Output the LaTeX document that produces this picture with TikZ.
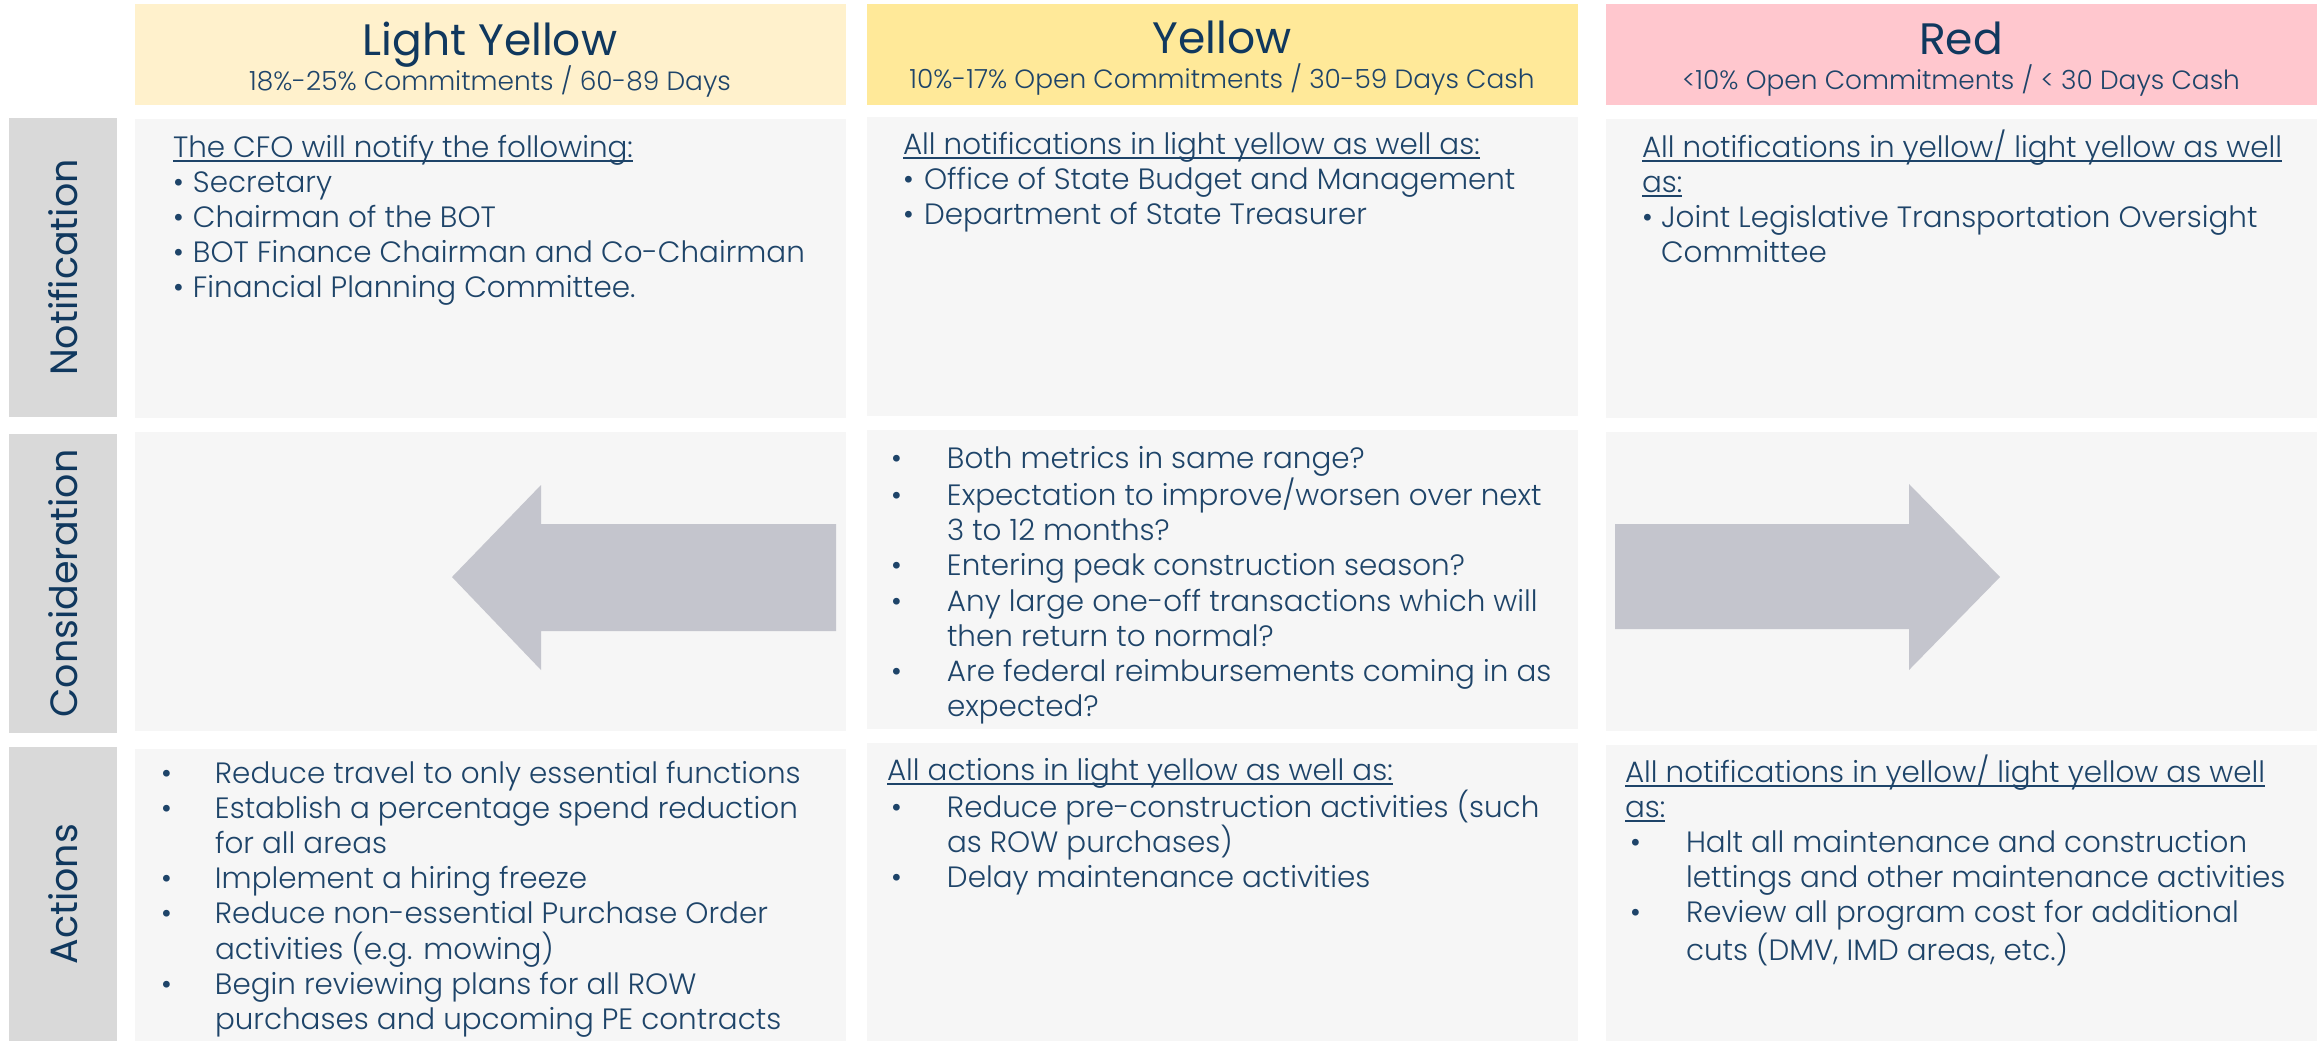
\documentclass[tikz,border=0pt]{standalone}
\usepackage{fontspec}
\setmainfont{Poppins}
\newfontfamily\lightfont{Poppins Light}
\definecolor{hdrlight}{HTML}{FFF1CC}
\definecolor{hdryellow}{HTML}{FFE999}
\definecolor{hdrred}{HTML}{FFC7CE}
\definecolor{labelgray}{HTML}{D9D9D9}
\definecolor{cellgray}{HTML}{F6F6F6}
\definecolor{arrowgray}{HTML}{C4C5CD}
\definecolor{navy}{HTML}{10385E}
\definecolor{bodyblue}{HTML}{1E4469}
\newcommand\ul[1]{\setbox0\hbox{#1}\rlap{\rule[-2.4pt]{\wd0}{0.85pt}}\box0}
\newcommand\nl{\hfil\break}
\newcommand\bitem[2]{\par\hangindent=#2\hangafter=1\noindent\makebox[#2][l]{\hspace{#1}\textbullet}}
\newcommand\blk[1]{\vtop{\hsize=420pt\parindent=0pt\parskip=0pt\lightfont\fontsize{14.7pt}{17.6pt}\selectfont\noindent #1}}
\newcommand\boxnode[7]{\node[#6, minimum width={(#4-#2)*0.5pt}, minimum height={(#5-#3)*0.5pt}] (#1) at (#2,#3) {#7};}
\tikzset{
  every node/.style={inner sep=0pt, outer sep=0pt},
  cellbox/.style={fill=cellgray, anchor=north west},
  labelbox/.style={fill=labelgray, anchor=north west},
  hdrbox/.style={anchor=north west},
  rowlabel/.style={rotate=90, text=navy, font=\fontsize{19pt}{22pt}\selectfont},
  title/.style={anchor=base, text=navy, font=\fontsize{22pt}{26pt}\selectfont},
  subtitle/.style={anchor=base, text=bodyblue, font=\lightfont\fontsize{13.2pt}{16pt}\selectfont},
  body/.style={anchor=base west, text=bodyblue, align=left},
  bigarrow/.style={fill=arrowgray, draw=none},
}
\begin{document}
\begin{tikzpicture}[x=0.5pt,y=-0.5pt]
\useasboundingbox (0,0) rectangle (2321,1041);
% headers
\boxnode{h1}{135}{4}{846}{105}{hdrbox, fill=hdrlight}{}
\boxnode{h2}{867}{4}{1578}{105}{hdrbox, fill=hdryellow}{}
\boxnode{h3}{1606}{4}{2317}{105}{hdrbox, fill=hdrred}{}
\node[title] (t1) at (490,55) {Light Yellow};
\node[subtitle] (s1) at (490,90) {18\%-25\% Commitments / 60-89 Days};
\node[title] (t2) at (1222,53) {Yellow};
\node[subtitle] (s2) at (1222,88) {10\%-17\% Open Commitments / 30-59 Days Cash};
\node[title] (t3) at (1961,54) {Red};
\node[subtitle] (s3) at (1961,89) {<10\% Open Commitments / < 30 Days Cash};
% row labels
\boxnode{l1}{9}{118}{117}{417}{labelbox}{}
\boxnode{l2}{9}{434}{117}{733}{labelbox}{}
\boxnode{l3}{9}{747}{117}{1041}{labelbox}{}
\node[rowlabel] (r1) at (l1.center) {Notification};
\node[rowlabel] (r2) at (l2.center) {Consideration};
\node[rowlabel] (r3) at (l3.center) {Actions};
% cells
\boxnode{c11}{135}{119}{846}{418}{cellbox}{}
\boxnode{c12}{867}{117}{1578}{416}{cellbox}{}
\boxnode{c13}{1606}{119}{2317}{418}{cellbox}{}
\boxnode{c21}{135}{432}{846}{731}{cellbox}{}
\boxnode{c22}{867}{430}{1578}{729}{cellbox}{}
\boxnode{c23}{1606}{432}{2317}{731}{cellbox}{}
\boxnode{c31}{135}{749}{846}{1041}{cellbox}{}
\boxnode{c32}{867}{743}{1578}{1041}{cellbox}{}
\boxnode{c33}{1606}{745}{2317}{1041}{cellbox}{}
% arrows
\fill[bigarrow] (836,524) -- (541,524) -- (541,485) -- (452,577) -- (541,670) -- (541,631) -- (836,631) -- cycle;
\fill[bigarrow] (1615,524) -- (1909,524) -- (1909,484) -- (2000,577) -- (1909,670) -- (1909,629) -- (1615,629) -- cycle;
% notification texts
\node[body] (n1) at (173,157) {\blk{\ul{The CFO will notify the following:}
\bitem{0pt}{10pt}Secretary
\bitem{0pt}{10pt}Chairman of the BOT
\bitem{0pt}{10pt}BOT Finance Chairman and Co-Chairman
\bitem{0pt}{10pt}Financial Planning Committee.}};
\node[body] (n2) at (903,154) {\blk{\ul{All notifications in light yellow as well as:}
\bitem{0pt}{10.5pt}Office of State Budget and Management
\bitem{0pt}{10.5pt}Department of State Treasurer}};
\node[body] (n3) at (1642,157) {\blk{\ul{All notifications in yellow/ light yellow as well}\nl\ul{as:}
\bitem{0pt}{9.5pt}Joint Legislative Transportation Oversight\nl Committee}};
% consideration text
\node[body] (k2) at (891,468) {\blk{%
\bitem{0pt}{28pt}Both metrics in same range?
\bitem{0pt}{28pt}Expectation to improve/worsen over next\nl 3 to 12 months?
\bitem{0pt}{28pt}Entering peak construction season?
\bitem{0pt}{28pt}Any large one-off transactions which will\nl then return to normal?
\bitem{0pt}{28pt}Are federal reimbursements coming in as\nl expected?}};
% actions texts
\node[body] (a1) at (161,783) {\blk{%
\bitem{0pt}{27pt}Reduce travel to only essential functions
\bitem{0pt}{27pt}Establish a percentage spend reduction\nl for all areas
\bitem{0pt}{27pt}Implement a hiring freeze
\bitem{0pt}{27pt}Reduce non-essential Purchase Order\nl activities (e.g. mowing)
\bitem{0pt}{27pt}Begin reviewing plans for all ROW\nl purchases and upcoming PE contracts}};
\node[body] (a2) at (887,780) {\blk{\ul{All actions in light yellow as well as:}
\bitem{2pt}{30pt}Reduce pre-construction activities (such\nl as ROW purchases)
\bitem{2pt}{30pt}Delay maintenance activities}};
\node[body] (a3) at (1625,782) {\blk{\ul{All notifications in yellow/ light yellow as well}\nl\ul{as:}
\bitem{2.5pt}{30.5pt}Halt all maintenance and construction\nl lettings and other maintenance activities
\bitem{2.5pt}{30.5pt}Review all program cost for additional\nl cuts (DMV, IMD areas, etc.)}};
\end{tikzpicture}
\end{document}
